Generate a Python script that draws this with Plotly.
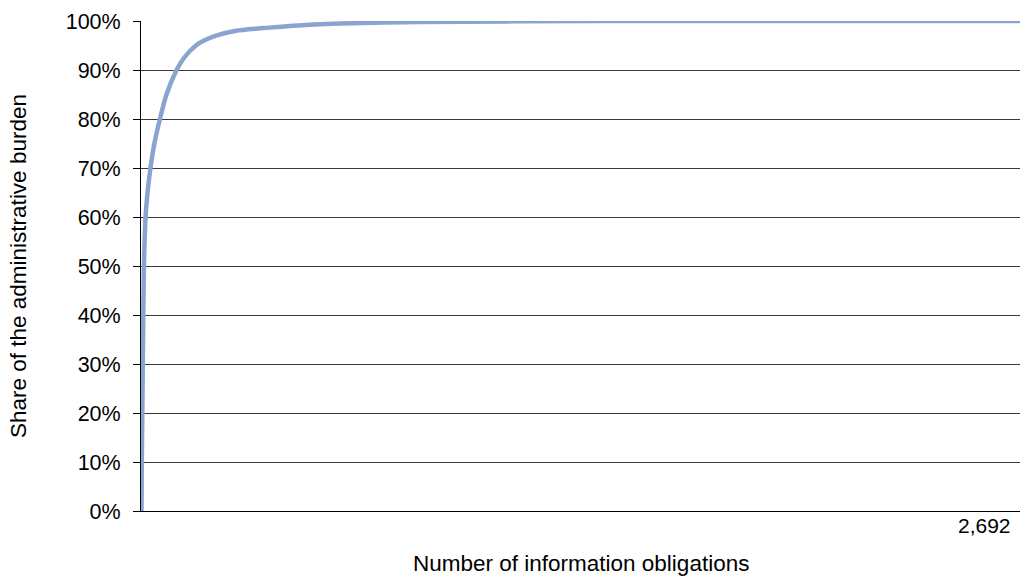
import plotly.graph_objects as go

# Cumulative share of administrative burden by number of information obligations
obligations = [1.5, 2.5, 4, 5.5, 7, 9, 14, 20, 29, 41, 58, 78, 109, 132, 168, 193, 230, 291,
               365, 456, 610, 855, 1406, 2000, 2692]
share = [0.0, 0.10, 0.20, 0.30, 0.40, 0.50, 0.60, 0.65, 0.70, 0.75, 0.80, 0.85, 0.90, 0.925,
         0.95, 0.96, 0.97, 0.98, 0.985, 0.99, 0.995, 0.998, 1.0, 1.0, 1.0]

y_ticks = [i / 10 for i in range(11)]
y_tick_labels = [f"{i * 10}%" for i in range(11)]
x_max = 2692
x_max_label = "2,692"
x_title = "Number of information obligations"
y_title = "Share of the administrative burden"

fig = go.Figure()
fig.add_trace(go.Scatter(
    x=obligations, y=share, mode="lines",
    line=dict(color="rgb(137,165,207)", width=4.5, shape="spline", smoothing=0.7),
    showlegend=False, hoverinfo="skip",
))

FAM = "Liberation Sans, Arial, sans-serif"
tick_font = dict(family=FAM, size=21.5, color="#000000")
title_font = dict(family=FAM, size=22.5, color="#000000")

fig.update_layout(
    width=1024, height=577,
    margin=dict(l=141, r=4, t=21, b=66),
    paper_bgcolor="white", plot_bgcolor="white",
    xaxis=dict(
        range=[0, x_max], showticklabels=False, showgrid=False, zeroline=False,
        showline=True, linecolor="#000000", linewidth=1, ticks="",
    ),
    yaxis=dict(
        range=[0, 1], tickvals=y_ticks, ticktext=y_tick_labels,
        showgrid=True, gridcolor="#3a3a3a", gridwidth=1, zeroline=False,
        showline=True, linecolor="#000000", linewidth=1,
        ticks="outside", ticklen=7, tickcolor="#000000",
        tickfont=tick_font, ticklabelstandoff=8,
    ),
    annotations=[
        dict(x=x_max, y=0, xref="x", yref="y", text=x_max_label, showarrow=False,
             xanchor="right", yanchor="middle", xshift=-7, yshift=-14,
             font=dict(family=FAM, size=21, color="#000000")),
        dict(x=0.5, y=0, xref="paper", yref="paper", text=x_title, showarrow=False,
             xanchor="center", yanchor="middle", yshift=-52, font=title_font),
        dict(x=0, y=0.5, xref="paper", yref="paper", text=y_title, showarrow=False,
             textangle=-90, xanchor="center", yanchor="middle", xshift=-123,
             font=title_font),
    ],
)

fig.write_html("out.html")
